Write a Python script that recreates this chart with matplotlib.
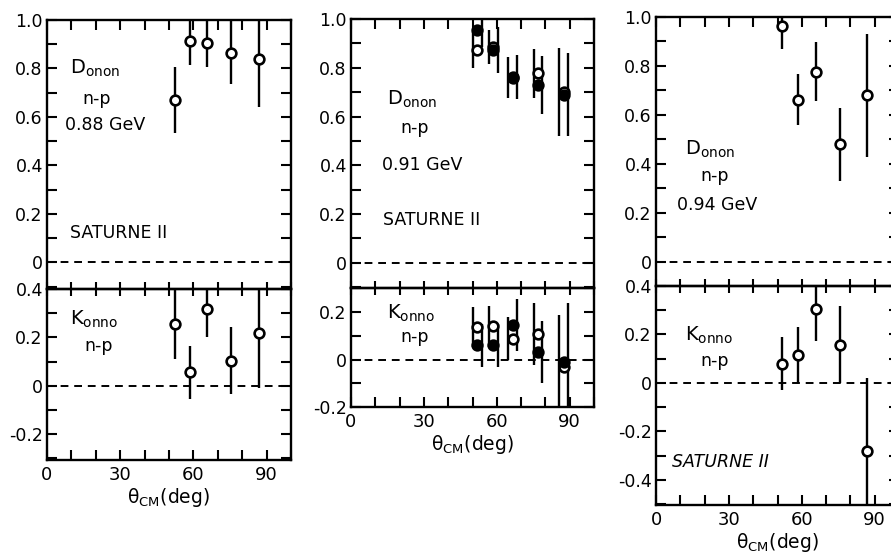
import numpy as np
import matplotlib
matplotlib.use("Agg")
import matplotlib.pyplot as plt
from matplotlib.ticker import MultipleLocator, FuncFormatter

plt.rcParams['font.family'] = ['DejaVu Sans']
plt.rcParams['mathtext.fontset'] = 'dejavusans'

# ---- data ----
# 0.88 GeV
th_088 = [52.5, 58.7, 65.7, 75.5, 87.0]
d_088 = [0.67, 0.915, 0.905, 0.865, 0.84]
d_088_err = [0.135, 0.10, 0.10, 0.13, 0.20]
k_088 = [0.254, 0.055, 0.317, 0.104, 0.22]
k_088_err = [0.145, 0.11, 0.115, 0.14, 0.23]

# 0.91 GeV (two data sets: open and full circles)
th_091 = [52.0, 58.6, 66.5, 77.0, 87.5]
d_091_open = [0.873, 0.885, 0.76, 0.778, 0.70]
d_091_open_err = [0.075, 0.07, 0.085, 0.10, 0.18]
d_091_full = [0.955, 0.873, 0.764, 0.73, 0.689]
d_091_full_err = [0.07, 0.095, 0.09, 0.12, 0.17]
k_091_open = [0.137, 0.14, 0.088, 0.109, -0.033]
k_091_open_err = [0.085, 0.085, 0.09, 0.13, 0.22]
k_091_full = [0.06, 0.06, 0.145, 0.031, -0.01]
k_091_full_err = [0.09, 0.09, 0.11, 0.13, 0.25]

# 0.94 GeV
th_094 = [52.0, 58.4, 65.7, 75.8, 86.8]
d_094 = [0.964, 0.662, 0.777, 0.48, 0.68]
d_094_err = [0.095, 0.105, 0.12, 0.15, 0.25]
k_094 = [0.08, 0.114, 0.303, 0.158, -0.28]
k_094_err = [0.11, 0.115, 0.13, 0.16, 0.30]

W, H = 891, 554
fig = plt.figure(figsize=(W / 100, H / 100), dpi=100)


def px_axes(left, right, top, bottom):
    return fig.add_axes([left / W, 1 - bottom / H, (right - left) / W, (bottom - top) / H])


def fmt(v, pos):
    if abs(v) < 1e-9:
        return "0"
    return "%.1f" % v


def style(ax, ylim, lower):
    ax.set_xlim(0, 100)
    ax.set_ylim(*ylim)
    for s in ax.spines.values():
        s.set_linewidth(1.7)
    ax.xaxis.set_major_locator(MultipleLocator(30))
    ax.xaxis.set_minor_locator(MultipleLocator(10))
    ax.yaxis.set_major_locator(MultipleLocator(0.2))
    ax.yaxis.set_minor_locator(MultipleLocator(0.1))
    ax.yaxis.set_major_formatter(FuncFormatter(fmt))
    ax.tick_params(axis='y', which='both', direction='in', left=True, right=True,
                   length=7, width=1.5, labelsize=12.5, pad=3)
    if lower:
        ax.tick_params(axis='x', which='both', direction='in', bottom=True, top=False,
                       length=7, width=1.5, labelsize=13, pad=4)
        sec = ax.secondary_xaxis('top')
        sec.xaxis.set_major_locator(MultipleLocator(10))
        sec.tick_params(direction='inout', length=10, width=1.5, labeltop=False)
        sec.spines['top'].set_linewidth(1.7)
        ax.set_xlabel("θ$_{\\mathregular{CM}}$(deg)", fontsize=13.5, labelpad=2)
    else:
        ax.spines['bottom'].set_visible(False)
        ax.tick_params(axis='x', which='both', direction='in', bottom=False, top=True,
                       length=7, width=1.5, labelbottom=False)
    ax.axhline(0, color='black', lw=1.4, ls=(0, (4, 3)))


def points(ax, x, y, err, filled, off=0.0):
    x = np.asarray(x)
    ax.errorbar(x + off, y, yerr=err, fmt='none', ecolor='black', elinewidth=1.7, capsize=0)
    ax.plot(x, y, 'o', ms=7, mew=1.9, mec='black',
            mfc='black' if filled else 'white', zorder=5)


tk = dict(fontsize=12.5, va='center', ha='left')
nk = dict(fontsize=14, va='center', ha='left')
dname = r"D$_{\mathregular{onon}}$"
kname = r"K$_{\mathregular{onno}}$"

# panel 1: 0.88 GeV
a1 = px_axes(47, 291, 20, 289)
style(a1, (-0.11, 1.0), False)
points(a1, th_088, d_088, d_088_err, False)
a1.text(9.4, 0.80, dname, **nk)
a1.text(14.3, 0.674, "n-p", **tk)
a1.text(7.4, 0.566, "0.88 GeV", **tk)
a1.text(9.4, 0.12, "SATURNE II", **tk)

b1 = px_axes(47, 291, 289, 460)
style(b1, (-0.307, 0.4), True)
points(b1, th_088, k_088, k_088_err, False)
b1.text(9.4, 0.275, kname, **nk)
b1.text(15.2, 0.165, "n-p", **tk)

# panel 2: 0.91 GeV
a2 = px_axes(351, 594, 19, 288)
style(a2, (-0.103, 1.0), False)
points(a2, th_091, d_091_open, d_091_open_err, False, off=-1.8)
points(a2, th_091, d_091_full, d_091_full_err, True, off=1.8)
a2.text(14.8, 0.67, dname, **nk)
a2.text(20.2, 0.553, "n-p", **tk)
a2.text(12.8, 0.40, "0.91 GeV", **tk)
a2.text(13.2, 0.176, "SATURNE II", **tk)

b2 = px_axes(351, 594, 288, 407)
style(b2, (-0.2, 0.302), True)
points(b2, th_091, k_091_open, k_091_open_err, False, off=-1.8)
points(b2, th_091, k_091_full, k_091_full_err, True, off=1.8)
b2.text(14.8, 0.195, kname, **nk)
b2.text(20.2, 0.094, "n-p", **tk)

# panel 3: 0.94 GeV
a3 = px_axes(656, 899, 17, 286)
style(a3, (-0.099, 1.0), False)
points(a3, th_094, d_094, d_094_err, False)
a3.text(12.0, 0.46, dname, **nk)
a3.text(18.2, 0.35, "n-p", **tk)
a3.text(8.8, 0.232, "0.94 GeV", **tk)

b3 = px_axes(656, 899, 286, 505)
style(b3, (-0.504, 0.4), True)
points(b3, th_094, k_094, k_094_err, False)
b3.text(12.0, 0.195, kname, **nk)
b3.text(18.2, 0.09, "n-p", **tk)
b3.text(6.7, -0.327, "SATURNE II", style='italic', **tk)

fig.savefig("out.png", dpi=100)
